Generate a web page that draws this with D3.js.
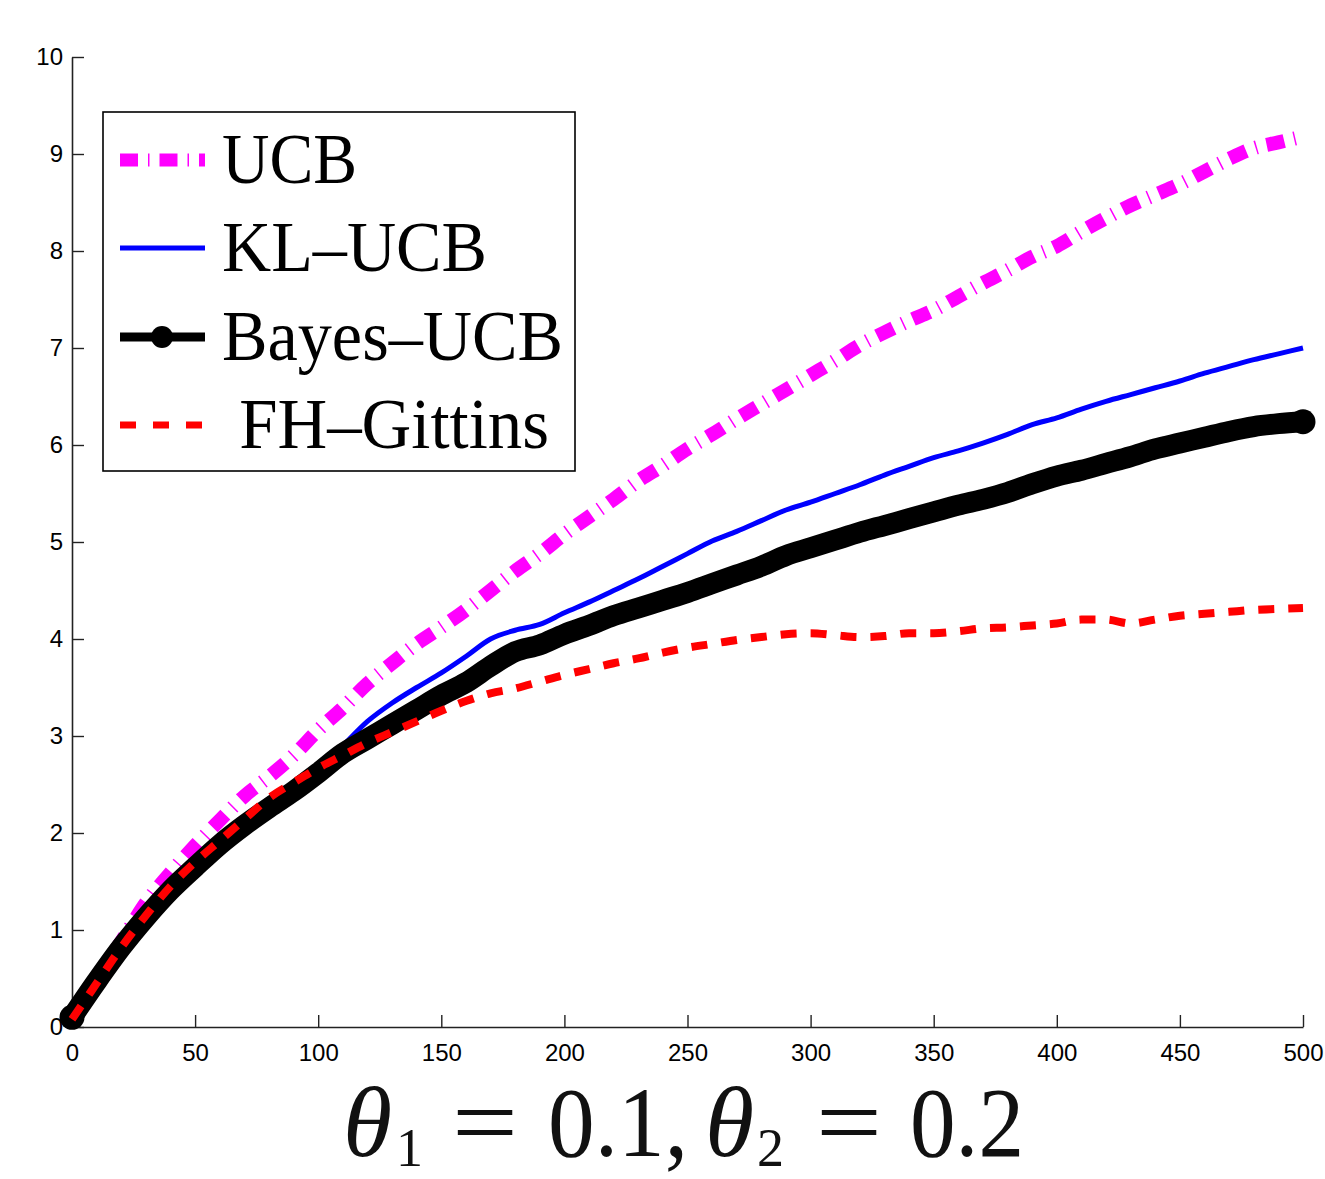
<!DOCTYPE html>
<html>
<head>
<meta charset="utf-8">
<script src="https://cdn.jsdelivr.net/npm/d3@7"></script>
<style>
  body { margin: 0; background: #fff; }
  svg { display: block; }
</style>
</head>
<body>
<div id="chart"></div>
<script>
// readings taken every 10 steps
var steps = d3.range(0, 501, 10);

var ucb = [0.1, 0.5, 0.88, 1.28, 1.59, 1.87, 2.13, 2.38, 2.58, 2.8,
  3.06, 3.29, 3.54, 3.75, 3.95, 4.12, 4.3, 4.5, 4.7, 4.88,
  5.08, 5.26, 5.44, 5.63, 5.79, 5.96, 6.11, 6.27, 6.42, 6.57,
  6.72, 6.87, 7.03, 7.16, 7.28, 7.39, 7.53, 7.67, 7.8, 7.94,
  8.05, 8.2, 8.34, 8.47, 8.58, 8.69, 8.82, 8.95, 9.06, 9.12, 9.18];

var klUcb = [0.1, 0.48, 0.84, 1.15, 1.43, 1.67, 1.9, 2.1, 2.28, 2.46,
  2.66, 2.9, 3.15, 3.34, 3.5, 3.65, 3.82, 4.0, 4.09, 4.15,
  4.27, 4.38, 4.5, 4.62, 4.75, 4.88, 5.01, 5.11, 5.22, 5.33,
  5.41, 5.5, 5.59, 5.69, 5.78, 5.87, 5.94, 6.02, 6.11, 6.21,
  6.28, 6.37, 6.45, 6.52, 6.59, 6.66, 6.74, 6.81, 6.88, 6.94, 7.0];

var bayesUcb = [0.1, 0.47, 0.82, 1.13, 1.41, 1.65, 1.88, 2.08, 2.26, 2.43,
  2.62, 2.82, 2.97, 3.12, 3.27, 3.42, 3.55, 3.72, 3.87, 3.94,
  4.05, 4.14, 4.24, 4.32, 4.4, 4.48, 4.57, 4.66, 4.75, 4.86,
  4.94, 5.02, 5.1, 5.17, 5.24, 5.31, 5.38, 5.44, 5.51, 5.6,
  5.68, 5.74, 5.81, 5.88, 5.96, 6.02, 6.08, 6.14, 6.19, 6.22, 6.24];

var fhGittins = [0.08, 0.45, 0.82, 1.15, 1.45, 1.7, 1.92, 2.14, 2.36, 2.52,
  2.67, 2.8, 2.93, 3.04, 3.15, 3.26, 3.36, 3.44, 3.49, 3.56,
  3.63, 3.69, 3.75, 3.8, 3.86, 3.91, 3.95, 3.99, 4.02, 4.05,
  4.06, 4.04, 4.02, 4.03, 4.06, 4.06, 4.08, 4.11, 4.12, 4.14,
  4.16, 4.2, 4.2, 4.16, 4.2, 4.24, 4.26, 4.28, 4.3, 4.31, 4.32];

var xTicks = [0, 50, 100, 150, 200, 250, 300, 350, 400, 450, 500];
var yTicks = [0, 1, 2, 3, 4, 5, 6, 7, 8, 9, 10];

var seriesNames = ['UCB', 'KL\u2013UCB', 'Bayes\u2013UCB', ' FH\u2013Gittins'];

var width = 1325;
var height = 1179;

var x = d3.scaleLinear().domain([0, 500]).range([72, 1303]);
var y = d3.scaleLinear().domain([0, 10]).range([1027, 57]);

var svg = d3.select('#chart')
  .append('svg')
  .attr('width', width)
  .attr('height', height);

// axes, ticks point inward like matlab
var yAxis = d3.axisLeft(y)
  .tickValues(yTicks)
  .tickSizeInner(-12)
  .tickSizeOuter(0)
  .tickPadding(9);

var xAxis = d3.axisBottom(x)
  .tickValues(xTicks)
  .tickSizeInner(-12)
  .tickSizeOuter(0)
  .tickPadding(17);

var gy = svg.append('g')
  .attr('transform', 'translate(72,0)')
  .call(yAxis);

var gx = svg.append('g')
  .attr('transform', 'translate(0,1027)')
  .call(xAxis);

[gx, gy].forEach(function(g) {
  g.select('.domain').attr('stroke', '#222').attr('stroke-width', 1.6);
  g.selectAll('.tick line').attr('stroke', '#222').attr('stroke-width', 1.4);
  g.selectAll('.tick text')
    .attr('font-family', 'Liberation Sans, Arial, sans-serif')
    .attr('font-size', 24)
    .attr('fill', '#000');
});

var line = d3.line()
  .x(function(d, i) { return x(steps[i]); })
  .y(function(d) { return y(d); })
  .curve(d3.curveMonotoneX);

svg.append('path')
  .datum(ucb)
  .attr('d', line)
  .attr('fill', 'none')
  .attr('stroke', '#ff00ff')
  .attr('stroke-width', 14)
  .attr('stroke-dasharray', '18,10,1.5,10');

svg.append('path')
  .datum(klUcb)
  .attr('d', line)
  .attr('fill', 'none')
  .attr('stroke', '#0000ff')
  .attr('stroke-width', 5);

svg.append('path')
  .datum(bayesUcb)
  .attr('d', line)
  .attr('fill', 'none')
  .attr('stroke', '#000')
  .attr('stroke-width', 21)
  .attr('stroke-linecap', 'round')
  .attr('stroke-linejoin', 'round');

svg.selectAll('.endDot')
  .data([0, bayesUcb.length - 1])
  .enter()
  .append('circle')
  .attr('class', 'endDot')
  .attr('cx', function(i) { return x(steps[i]); })
  .attr('cy', function(i) { return y(bayesUcb[i]); })
  .attr('r', 12.5)
  .attr('fill', '#000');

svg.append('path')
  .datum(fhGittins)
  .attr('d', line)
  .attr('fill', 'none')
  .attr('stroke', '#ff0000')
  .attr('stroke-width', 8)
  .attr('stroke-dasharray', '16,14');

// legend
var legend = svg.append('g');

legend.append('rect')
  .attr('x', 103)
  .attr('y', 112)
  .attr('width', 472)
  .attr('height', 359)
  .attr('fill', '#fff')
  .attr('stroke', '#000')
  .attr('stroke-width', 1.6);

var rowY = [160, 248, 337, 425];
var textW = [135, 265, 341, 327];

var styles = [
  { color: '#ff00ff', w: 13, dash: '18,10,1.5,10' },
  { color: '#0000ff', w: 5, dash: null },
  { color: '#000', w: 9, dash: null },
  { color: '#ff0000', w: 7, dash: '16,17' }
];

seriesNames.forEach(function(name, i) {
  legend.append('line')
    .attr('x1', 120)
    .attr('x2', 205)
    .attr('y1', rowY[i])
    .attr('y2', rowY[i])
    .attr('stroke', styles[i].color)
    .attr('stroke-width', styles[i].w)
    .attr('stroke-dasharray', styles[i].dash);

  if (i === 2) {
    legend.append('circle')
      .attr('cx', 162)
      .attr('cy', rowY[i])
      .attr('r', 11)
      .attr('fill', '#000');
  }

  legend.append('text')
    .attr('x', 222)
    .attr('y', rowY[i] + 23)
    .attr('font-family', 'Liberation Serif, Times New Roman, serif')
    .attr('font-size', 72)
    .attr('textLength', textW[i])
    .attr('lengthAdjust', 'spacingAndGlyphs')
    .style('white-space', 'pre')
    .text(name);
});

// caption under the axis, pieces placed like the latex output
var capParts = [
  { t: '\u03b8', x: 343, italic: true, sub: false },
  { t: '1', x: 396, italic: false, sub: true },
  { t: '=', x: 452, italic: false, sub: false },
  { t: '0.1,', x: 548, italic: false, sub: false },
  { t: '\u03b8', x: 705, italic: true, sub: false },
  { t: '2', x: 757, italic: false, sub: true },
  { t: '=', x: 816, italic: false, sub: false },
  { t: '0.2', x: 910, italic: false, sub: false }
];

svg.append('g')
  .selectAll('text')
  .data(capParts)
  .enter()
  .append('text')
  .attr('x', function(d) { return d.x; })
  .attr('y', function(d) { return d.sub ? 1166 : 1156; })
  .attr('font-family', 'Liberation Serif, Times New Roman, serif')
  .attr('font-size', function(d) { return d.sub ? 54 : 100; })
  .attr('font-style', function(d) { return d.italic ? 'italic' : 'normal'; })
  .attr('fill', '#111')
  .attr('textLength', function(d) {
    return d.t === '=' ? 66 : (d.t === '0.1,' ? 140 : (d.t === '0.2' ? 114 : null));
  })
  .attr('lengthAdjust', 'spacingAndGlyphs')
  .text(function(d) { return d.t; });
</script>
</body>
</html>
